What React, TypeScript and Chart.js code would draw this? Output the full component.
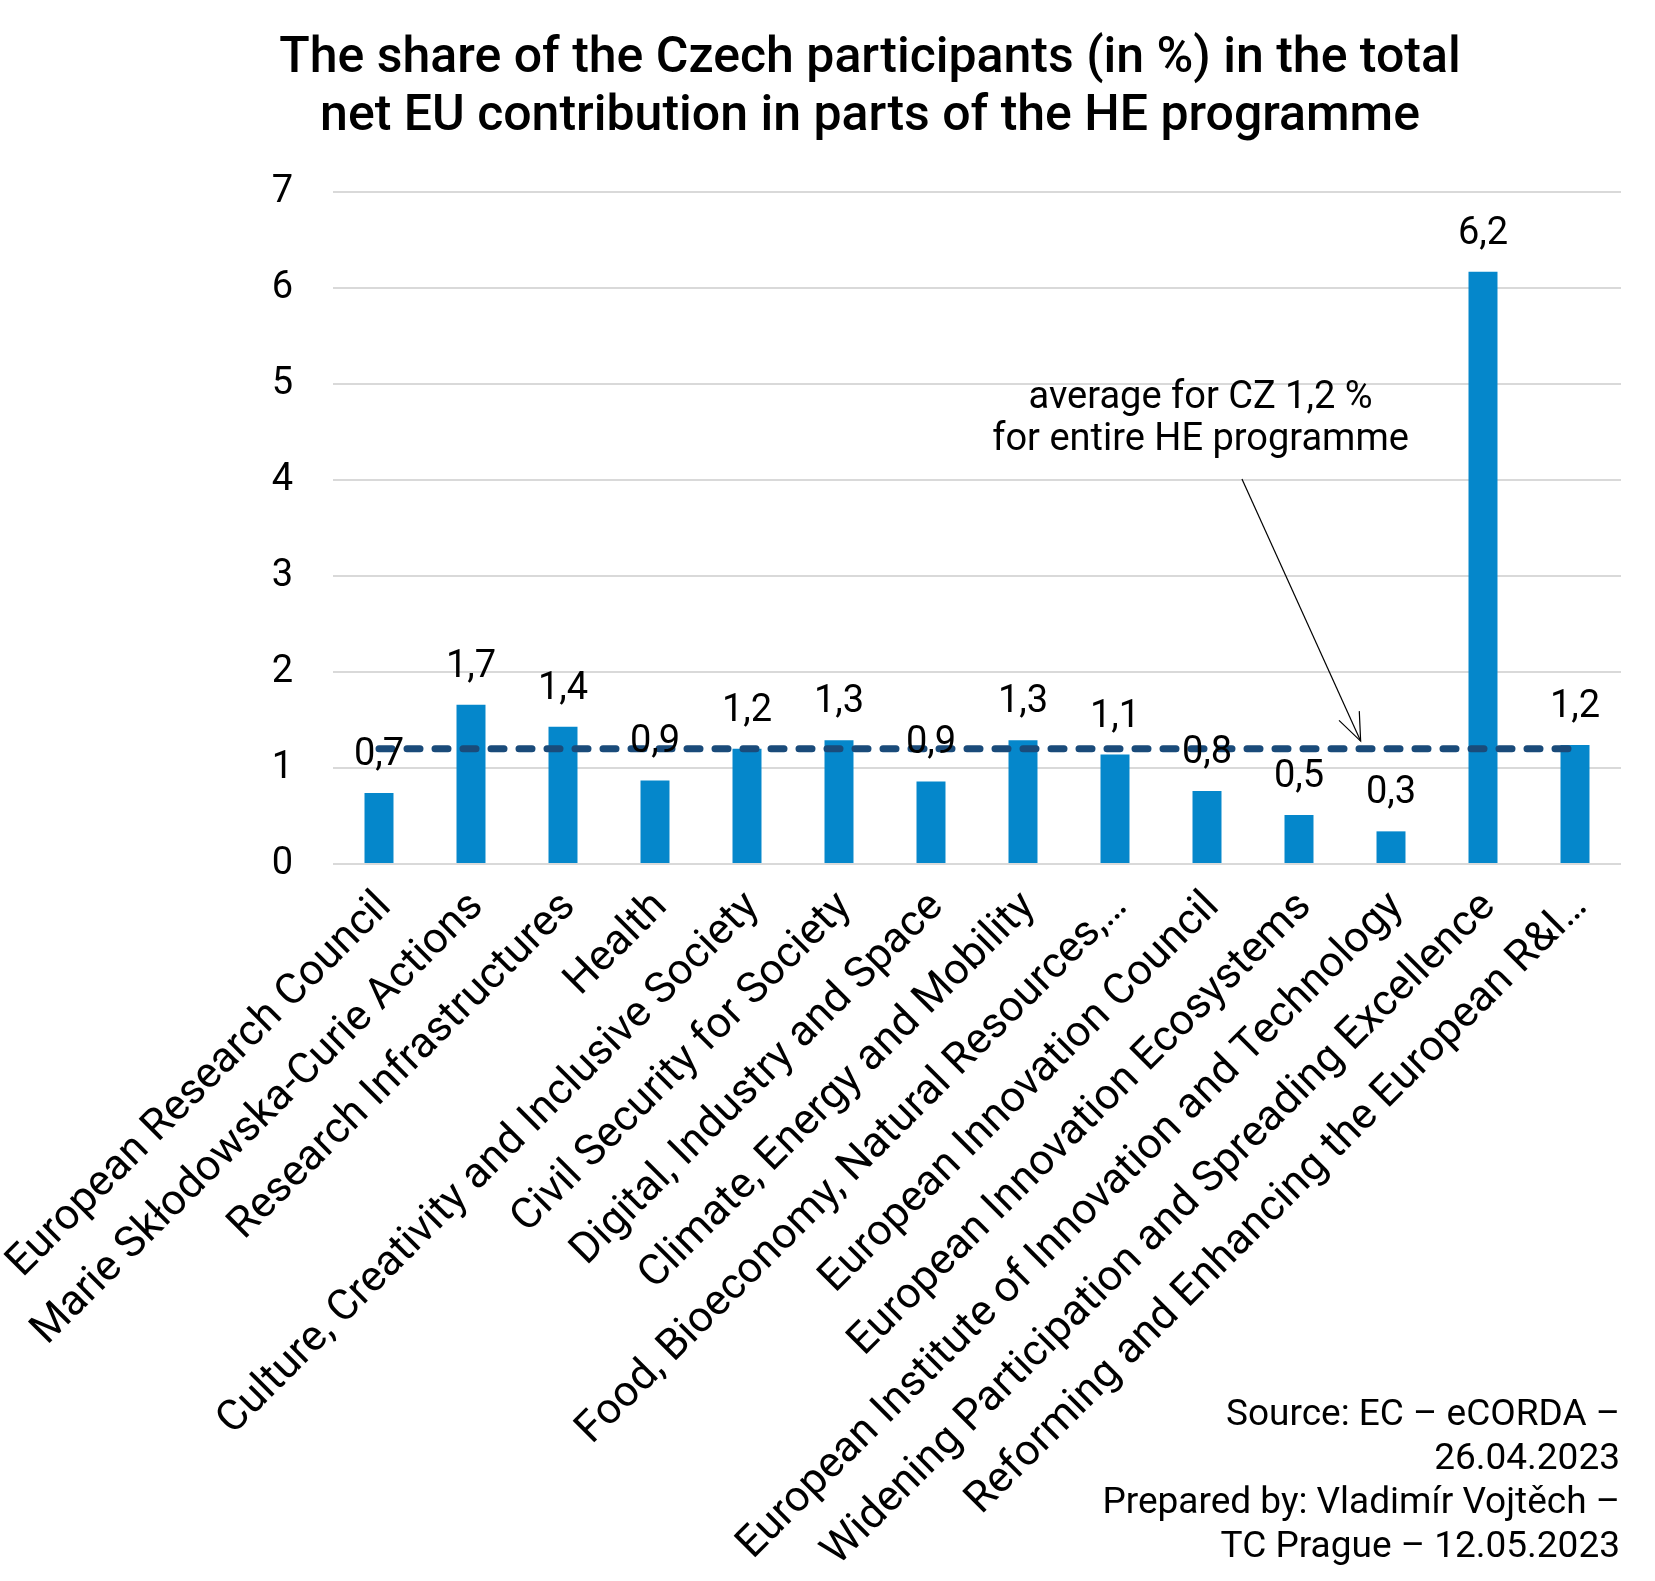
import React, { useEffect, useRef } from "react";
import { Chart, registerables } from "chart.js";

Chart.register(...registerables);

const categories = [
  "European Research Council",
  "Marie Skłodowska-Curie Actions",
  "Research Infrastructures",
  "Health",
  "Culture, Creativity and Inclusive Society",
  "Civil Security for Society",
  "Digital, Industry and Space",
  "Climate, Energy and Mobility",
  "Food, Bioeconomy, Natural Resources,…",
  "European Innovation Council",
  "European Innovation Ecosystems",
  "European Institute of Innovation and Technology",
  "Widening Participation and Spreading Excellence",
  "Reforming and Enhancing the European R&I…",
];

const shareValues = [0.74, 1.66, 1.43, 0.87, 1.2, 1.29, 0.86, 1.29, 1.14, 0.76, 0.51, 0.34, 6.17, 1.24];

const averageValues = [1.2, 1.2, 1.2, 1.2, 1.2, 1.2, 1.2, 1.2, 1.2, 1.2, 1.2, 1.2, 1.2, 1.2];

const yMin = 0;
const yMax = 7;
const yStep = 1;

const titleLines = [
  "The share of the Czech participants (in %) in the total",
  "net EU contribution in parts of the HE programme",
];

const annotationLines = ["average for CZ 1,2 %", "for entire HE programme"];
// annotation anchors in data units: [category index, value]
const annotationTextAnchor = [8.93, 4.75];
const annotationLineGap = 0.44;
const arrowFrom = [9.38, 4.01];
const arrowTo = [10.67, 1.28];

const sourceLines = [
  "Source: EC – eCORDA –",
  "26.04.2023",
  "Prepared by: Vladimír Vojtěch –",
  "TC Prague – 12.05.2023",
];

const FONT = "Roboto";
const W = 1655;
const H = 1581;

const fmt = (v: number) => v.toFixed(1).replace(".", ",");

const overlayPlugin = {
  id: "overlay",
  afterDatasetsDraw(chart: any) {
    const ctx = chart.ctx as CanvasRenderingContext2D;
    const xs = chart.scales.x;
    const ys = chart.scales.y;
    const meta = chart.getDatasetMeta(1);
    ctx.save();
    // data labels
    ctx.fillStyle = "#000";
    ctx.font = `38px ${FONT}`;
    ctx.textAlign = "center";
    ctx.textBaseline = "alphabetic";
    meta.data.forEach((bar: any, i: number) => {
      ctx.fillText(fmt(shareValues[i]), bar.x, bar.y - 28);
    });
    // annotation text
    ctx.font = `38px ${FONT}`;
    const ax = xs.getPixelForValue(annotationTextAnchor[0]);
    annotationLines.forEach((line, i) => {
      const ay = ys.getPixelForValue(annotationTextAnchor[1] - i * annotationLineGap);
      ctx.fillText(line, ax, ay);
    });
    // arrow
    const x1 = xs.getPixelForValue(arrowFrom[0]);
    const y1 = ys.getPixelForValue(arrowFrom[1]);
    const x2 = xs.getPixelForValue(arrowTo[0]);
    const y2 = ys.getPixelForValue(arrowTo[1]);
    ctx.strokeStyle = "#000";
    ctx.lineWidth = 1.2;
    ctx.beginPath();
    ctx.moveTo(x1, y1);
    ctx.lineTo(x2, y2);
    ctx.stroke();
    const ang = Math.atan2(y2 - y1, x2 - x1);
    const hl = 30;
    const spread = 0.38;
    ctx.beginPath();
    ctx.moveTo(x2 - hl * Math.cos(ang - spread), y2 - hl * Math.sin(ang - spread));
    ctx.lineTo(x2, y2);
    ctx.lineTo(x2 - hl * Math.cos(ang + spread), y2 - hl * Math.sin(ang + spread));
    ctx.stroke();
    ctx.restore();
  },
  afterDraw(chart: any) {
    const ctx = chart.ctx as CanvasRenderingContext2D;
    ctx.save();
    ctx.fillStyle = "#000";
    ctx.textBaseline = "alphabetic";
    // title
    ctx.font = `500 50px ${FONT}`;
    ctx.textAlign = "center";
    titleLines.forEach((line, i) => {
      ctx.fillText(line, 870, 72 + i * 58);
    });
    // source
    ctx.font = `37px ${FONT}`;
    ctx.textAlign = "right";
    sourceLines.forEach((line, i) => {
      ctx.fillText(line, 1620, 1425 + i * 44);
    });
    ctx.restore();
  },
};

export default function App() {
  const ref = useRef<HTMLCanvasElement | null>(null);
  useEffect(() => {
    if (!ref.current) return;
    const chart = new Chart(ref.current, {
      type: "bar",
      data: {
        labels: categories,
        datasets: [
          {
            type: "line",
            label: "average",
            data: averageValues,
            borderColor: "#1A4B7A",
            borderWidth: 7,
            borderDash: [13, 15],
            borderCapStyle: "round",
            pointRadius: 0,
            fill: false,
            order: 0,
          } as any,
          {
            type: "bar",
            label: "share",
            data: shareValues,
            backgroundColor: "#0587CB",
            barPercentage: 0.315,
            categoryPercentage: 1,
            order: 1,
          },
        ],
      },
      options: {
        animation: false,
        responsive: false,
        devicePixelRatio: 1,
        layout: { padding: { top: 192, right: 34, bottom: 0, left: 0 } },
        plugins: {
          legend: { display: false },
          tooltip: { enabled: false },
          title: { display: false },
        },
        scales: {
          x: {
            grid: { display: false, drawTicks: false },
            border: { display: false },
            ticks: {
              autoSkip: false,
              maxRotation: 45,
              minRotation: 45,
              color: "#000",
              padding: 18,
              labelOffset: 6,
              font: { family: FONT, size: 43 },
            },
            afterFit: (s: any) => {
              s.height = 717;
              s.paddingLeft = 0;
              s.paddingRight = 0;
            },
          },
          y: {
            min: yMin,
            max: yMax,
            grid: { color: "#D9D9D9", lineWidth: 2, drawTicks: false },
            border: { display: false },
            ticks: {
              stepSize: yStep,
              color: "#000",
              padding: 40,
              font: { family: FONT, size: 38 },
              callback: (v: any) => String(v),
            },
            afterFit: (s: any) => {
              s.width = 333;
              s.paddingTop = 0;
              s.paddingBottom = 0;
            },
          },
        },
      },
      plugins: [overlayPlugin],
    });
    return () => chart.destroy();
  }, []);
  return (
    <div style={{ position: "absolute", left: 0, top: 0, width: W, height: H, background: "#fff" }}>
      <canvas ref={ref} width={W} height={H} style={{ display: "block", width: W, height: H }} />
    </div>
  );
}
